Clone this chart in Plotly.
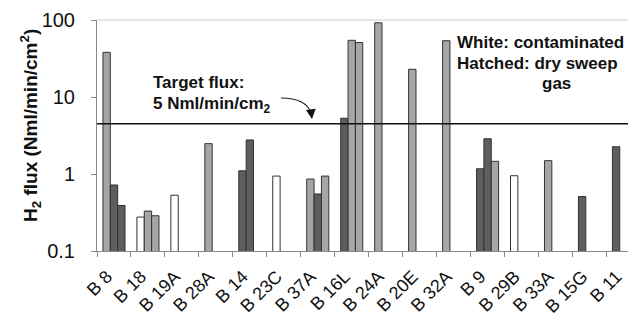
import plotly.graph_objects as go

categories = ["B 8", "B 18", "B 19A", "B 28A", "B 14", "B 23C", "B 37A", "B 16L",
              "B 24A", "B 20E", "B 32A", "B 9", "B 29B", "B 33A", "B 15G", "B 11"]

# three bar slots per category (None = empty slot)
slot1 = [38, 0.276, 0.53, 2.48, 1.10, 0.94, 0.86, 5.3, 92, 22.9, 53.8, 1.17, 0.95, 1.49, 0.51, 2.26]
slot2 = [0.72, 0.33, None, None, 2.77, None, 0.55, 54.5, None, None, None, 2.87, None, None, None, None]
slot3 = [0.39, 0.287, None, None, None, None, 0.94, 51, None, None, None, 1.46, None, None, None, None]

# sample type per bar: L = light grey, D = dark grey, W = white (contaminated)
kind1 = ["L", "W", "W", "L", "D", "W", "L", "D", "L", "L", "L", "D", "W", "L", "D", "D"]
kind2 = ["D", "L", "L", "L", "D", "L", "D", "L", "L", "L", "L", "D", "L", "L", "L", "L"]
kind3 = ["D", "L", "L", "L", "L", "L", "L", "L", "L", "L", "L", "L", "L", "L", "L", "L"]

target_flux = 4.5

yticks = [0.1, 1, 10, 100]
yticklabels = ["0.1", "1", "10", "100"]

palette = {"L": "#a6a6a6", "D": "#5e5e5e", "W": "#ffffff"}

fig = go.Figure()
for vals, kinds in [(slot1, kind1), (slot2, kind2), (slot3, kind3)]:
    fig.add_trace(go.Bar(
        x=categories, y=vals,
        marker=dict(color=[palette[k] for k in kinds],
                    line=dict(color="#333333", width=1)),
        showlegend=False,
    ))

FONT = "Liberation Sans, Arial, sans-serif"

# page body has an 8px margin; figure is sized so the plot area sits at x 97..636, y 20..251
fig.update_layout(
    width=628, height=318,
    margin=dict(l=89, r=0, t=12, b=75),
    paper_bgcolor="white", plot_bgcolor="white",
    barmode="group", bargap=0.35, bargroupgap=0,
    font=dict(family=FONT, size=18, color="#111111"),
    xaxis=dict(
        type="category", range=[-0.5, 15.37], automargin=False,
        tickson="boundaries", ticks="outside", ticklen=5, tickcolor="#888888",
        showline=True, linecolor="#888888", linewidth=1,
        tickangle=-45, tickfont=dict(size=18, family=FONT, color="#111111"),
        ticklabelstandoff=7, ticklabelshift=-7,
        showgrid=False,
    ),
    yaxis=dict(
        type="log", range=[-1, 2], automargin=False,
        tickvals=yticks, ticktext=yticklabels,
        ticks="outside", ticklen=5, tickcolor="#888888",
        showline=True, linecolor="#888888", linewidth=1,
        tickfont=dict(size=20, family=FONT, color="#111111"),
        ticklabelstandoff=12,
        showgrid=False, zeroline=False,
    ),
)

def px(xp):
    return (xp - 97) / 539.0

def py(yp):
    return (251 - yp) / 231.0

# top frame line
fig.add_shape(type="line", xref="paper", yref="paper", x0=0, x1=1, y0=1, y1=1,
              line=dict(color="#cccccc", width=1))
# target line
fig.add_shape(type="line", xref="paper", yref="y", x0=0, x1=1, y0=target_flux, y1=target_flux,
              line=dict(color="#111111", width=1.5))

# curved arrow
fig.add_shape(type="path", xref="paper", yref="paper",
              path=f"M {px(281)},{py(98)} Q {px(306)},{py(98)} {px(311)},{py(113)}",
              line=dict(color="#222222", width=1.2))
fig.add_annotation(xref="paper", yref="paper", x=px(312), y=py(119), text="",
                   showarrow=True, ax=-1, ay=-8, arrowhead=2, arrowsize=1.3,
                   arrowwidth=1.5, arrowcolor="#111111")

def txt(s, x, y, anchor="left"):
    fig.add_annotation(xref="paper", yref="paper", x=px(x), y=py(y), text=s,
                       showarrow=False, xanchor=anchor, yanchor="middle",
                       font=dict(family=FONT, size=17, color="#111111"))

txt("<b>Target flux:</b>", 151, 82)
txt("<b>5 Nml/min/cm<sub>2</sub></b>", 151, 105)
txt("<b>White: contaminated</b>", 455, 42)
txt("<b>Hatched: dry sweep</b>", 455, 63)
txt("<b>gas</b>", 556, 83, anchor="center")

# y axis title
fig.add_annotation(xref="paper", yref="paper", x=px(30), y=py(126),
                   text="<b>H<sub>2</sub> flux (Nml/min/cm<sup>2</sup>)</b>",
                   textangle=-90, showarrow=False, xanchor="center", yanchor="middle",
                   font=dict(family=FONT, size=19, color="#111111"))

fig.write_html("out.html")
